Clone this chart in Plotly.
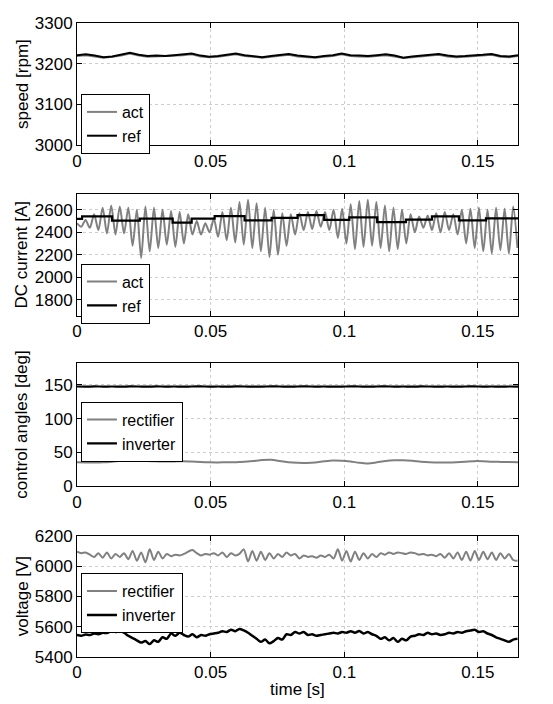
import plotly.graph_objects as go

# ---------------- data ----------------
DT_FINE = 0.0016      # sample spacing for fast signals [s]
DT_COARSE = 0.0033    # sample spacing for slow signals [s]

current_act = [2480, 2450, 2510, 2440, 2560, 2420, 2620, 2390, 2640, 2380,
               2630, 2390, 2620, 2280, 2600, 2170, 2630, 2230, 2620, 2260,
               2600, 2290, 2590, 2270, 2580, 2300, 2560, 2380, 2500, 2380,
               2480, 2400, 2520, 2360, 2580, 2330, 2620, 2310, 2670, 2290,
               2690, 2260, 2660, 2230, 2620, 2180, 2600, 2200, 2570, 2280,
               2560, 2380, 2570, 2420, 2580, 2430, 2590, 2450, 2580, 2420,
               2600, 2350, 2610, 2300, 2650, 2250, 2680, 2270, 2690, 2280,
               2670, 2260, 2640, 2230, 2620, 2250, 2600, 2300, 2560, 2400,
               2540, 2440, 2550, 2420, 2570, 2400, 2580, 2420, 2560, 2380,
               2600, 2300, 2610, 2260, 2620, 2230, 2600, 2210, 2620, 2240,
               2610, 2210, 2630, 2260]

current_ref_t = [0, 0.0019, 0.0131, 0.0235, 0.0358, 0.0429, 0.0515, 0.0627,
                 0.0728, 0.0825, 0.0925, 0.1019, 0.1123, 0.1231, 0.1328,
                 0.1429, 0.153, 0.165]
current_ref = [2519, 2542, 2504, 2522, 2486, 2522, 2544, 2507, 2528, 2553,
               2510, 2533, 2490, 2513, 2542, 2507, 2525, 2525]

speed_ref = [3221, 3223, 3220, 3216, 3218, 3222, 3227, 3222, 3219, 3220,
             3219, 3221, 3223, 3225, 3220, 3217, 3219, 3222, 3225, 3221,
             3219, 3216, 3219, 3221, 3224, 3220, 3218, 3216, 3219, 3221,
             3225, 3221, 3220, 3219, 3221, 3223, 3220, 3215, 3218, 3220,
             3221, 3224, 3220, 3218, 3219, 3220, 3222, 3224, 3219, 3218,
             3221]
speed_act = [3219, 3221, 3218, 3215, 3217, 3220, 3225, 3220, 3217, 3218,
             3218, 3219, 3221, 3223, 3218, 3216, 3217, 3220, 3223, 3219,
             3217, 3215, 3217, 3219, 3222, 3218, 3216, 3215, 3217, 3219,
             3223, 3219, 3218, 3217, 3219, 3221, 3218, 3214, 3216, 3218,
             3219, 3222, 3218, 3216, 3217, 3218, 3220, 3222, 3217, 3216,
             3219]

angle_rect = [35.5, 35.3, 35.2, 35.5, 36.5, 37.8, 38.5, 38.3, 37.5, 37.0,
              36.6, 36.9, 37.3, 36.8, 36.0, 35.5, 35.4, 35.6, 35.8, 36.5,
              37.6, 38.8, 39.2, 37.5, 35.5, 34.8, 34.7, 35.3, 37.0, 38.3,
              38.0, 36.8, 34.8, 33.8, 35.5, 37.5, 38.5, 38.6, 37.8, 36.5,
              35.7, 35.3, 35.4, 35.8, 36.5, 37.3, 37.2, 36.5, 36.2, 36.0,
              35.8]
angle_inv = [147.5, 147.3, 147.6, 147.4, 147.5, 147.2, 147.6, 147.5, 147.3, 147.6,
             147.4, 147.5, 147.2, 147.5, 147.6, 147.4, 147.5, 147.3, 147.6, 147.5,
             147.2, 147.4, 147.6, 147.5, 147.3, 147.5, 147.6, 147.4, 147.5, 147.2,
             147.4, 147.6, 147.5, 147.3, 147.5, 147.6, 147.4, 147.5, 147.3, 147.6,
             147.5, 147.4, 147.5, 147.2, 147.5, 147.6, 147.4, 147.5, 147.3, 147.5,
             147.4]

volt_rect = [6095, 6085, 6090, 6075,
             6060, 6085, 6055, 6090, 6050, 6080, 6060, 6085, 6045,
             6100, 6035, 6090, 6025, 6110, 6040, 6095, 6050, 6080, 6065, 6075, 6070, 6080,
             6095, 6105, 6085, 6070, 6080, 6075, 6085,
             6070, 6090, 6060, 6085, 6070, 6080,
             6110, 6030, 6100, 6035, 6095, 6040, 6085, 6050, 6080, 6060, 6090, 6070,
             6080, 6050, 6070, 6060, 6065, 6055, 6070, 6060,
             6075, 6050, 6110, 6035, 6100, 6030, 6095, 6040, 6085, 6050, 6080, 6060,
             6085, 6075, 6090, 6080, 6090, 6085, 6080, 6090, 6085, 6075, 6080, 6070, 6075, 6065,
             6080, 6055, 6085, 6050, 6090, 6040,
             6095, 6035, 6100, 6040, 6095, 6045, 6090, 6040, 6085, 6050, 6080, 6040, 6035]

volt_inv = [5545, 5540, 5548, 5545, 5555, 5550, 5560, 5558,
            5570, 5565, 5572, 5560,
            5540, 5525, 5510, 5495, 5505, 5485,
            5510, 5500, 5530, 5520, 5555, 5540, 5560,
            5545, 5535, 5550, 5530, 5545, 5540, 5550,
            5555, 5560, 5570, 5565, 5580, 5570, 5585, 5575,
            5560, 5540, 5520, 5500, 5515, 5490, 5505,
            5525, 5515, 5550, 5545, 5565, 5555,
            5565, 5545, 5550, 5540, 5545, 5550, 5555, 5560, 5555,
            5565, 5560, 5570, 5560, 5572, 5555, 5565, 5550,
            5540, 5520, 5530, 5510, 5525, 5500, 5520, 5510,
            5535, 5540, 5550, 5545, 5560, 5550, 5555, 5545, 5550,
            5560, 5555, 5565, 5560, 5570, 5575, 5580, 5565, 5570,
            5555, 5545, 5530, 5520, 5510, 5500, 5515, 5520]

x_tickvals = [0, 0.05, 0.1, 0.15]
x_ticktext = ["0", "0.05", "0.1", "0.15"]

t_fine = [round(k * DT_FINE, 5) for k in range(len(current_act))]
t_coarse = [round(k * DT_COARSE, 5) for k in range(len(speed_ref))]

# ---------------- styling ----------------
GREY = "rgb(128,128,128)"
BLACK = "black"
FONT = "Liberation Sans, Arial, sans-serif"
FS = 17

fig = go.Figure()

def add(x, y, name, color, width, xa, ya, legend, shape="spline"):
    fig.add_trace(go.Scatter(x=x, y=y, name=name, mode="lines",
                             line=dict(color=color, width=width, shape=shape,
                                       smoothing=0.8 if shape == "spline" else None),
                             xaxis=xa, yaxis=ya, legend=legend))

# panel 1: speed
add(t_coarse, speed_act, "act", GREY, 2, "x", "y", "legend", shape="linear")
add(t_coarse, speed_ref, "ref", BLACK, 2, "x", "y", "legend", shape="linear")
# panel 2: DC current
add(t_fine, current_act, "act", GREY, 2, "x2", "y2", "legend2")
add(current_ref_t, current_ref, "ref", BLACK, 2.2, "x2", "y2", "legend2", shape="hv")
# panel 3: control angles
add(t_coarse, angle_rect, "rectifier", GREY, 2, "x3", "y3", "legend3")
add(t_coarse, angle_inv, "inverter", BLACK, 2.2, "x3", "y3", "legend3")
# panel 4: voltage
add(t_fine, volt_rect, "rectifier", GREY, 2, "x4", "y4", "legend4")
add(t_fine, volt_inv, "inverter", BLACK, 2.5, "x4", "y4", "legend4")

axis_common = dict(showline=True, linecolor="black", linewidth=1, mirror="ticks",
                   ticks="inside", ticklen=5, tickcolor="black",
                   showgrid=True, gridcolor="rgb(205,205,205)", griddash="dot",
                   gridwidth=1, zeroline=False,
                   tickfont=dict(family=FONT, size=FS, color="black"))

# panel domains (paper coords)
domains = [[0.8072, 1.0], [0.5381, 0.7309], [0.2691, 0.4635], [0.0, 0.1913]]
yranges = [[3000, 3300], [1655, 2745], [0, 182], [5400, 6200]]
yticks = [[3000, 3100, 3200, 3300], [1800, 2000, 2200, 2400, 2600],
          [0, 50, 100, 150], [5400, 5600, 5800, 6000, 6200]]
ytitles = ["speed [rpm]", "DC current [A]", "control angles [deg]", "voltage [V]"]
legend_tops = [0.888, 0.6205, 0.4028, 0.1322]

# the page body adds an 8 px offset, so the figure is 8 px smaller than the window
layout = dict(width=545, height=696, margin=dict(l=69, r=35, t=6, b=47),
              paper_bgcolor="white", plot_bgcolor="white",
              font=dict(family=FONT, size=FS, color="black"), annotations=[])

for i in range(4):
    sx = "" if i == 0 else str(i + 1)
    layout["xaxis" + sx] = dict(axis_common, domain=[0, 1], range=[0, 0.165],
                                tickvals=x_tickvals, ticktext=x_ticktext,
                                anchor="y" + sx)
    layout["yaxis" + sx] = dict(axis_common, domain=domains[i], range=yranges[i],
                                tickvals=yticks[i], anchor="x" + sx)
    layout["legend" + sx] = dict(x=0.009, y=legend_tops[i], xanchor="left", yanchor="top",
                                 bgcolor="white", bordercolor="black", borderwidth=1,
                                 font=dict(family=FONT, size=16, color="black"),
                                 itemwidth=30, tracegroupgap=0)
    layout["annotations"].append(dict(text=ytitles[i], textangle=-90, xref="paper",
                                      yref="paper", x=-0.125,
                                      y=(domains[i][0] + domains[i][1]) / 2,
                                      xanchor="center", yanchor="middle", showarrow=False,
                                      font=dict(family=FONT, size=FS, color="black")))

layout["annotations"].append(dict(text="time [s]", xref="paper", yref="paper",
                                  x=0.5, y=-0.051, xanchor="center", yanchor="middle",
                                  showarrow=False,
                                  font=dict(family=FONT, size=FS, color="black")))

fig.update_layout(**layout)
fig.write_html("out.html")
